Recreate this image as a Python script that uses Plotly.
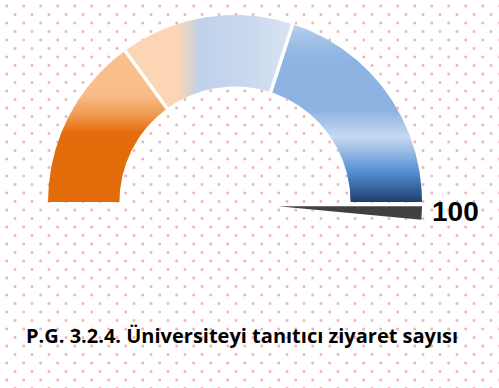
import numpy as np
import plotly.graph_objects as go

# Gauge scale (percent) and the three coloured bands
band_edges = [0, 30, 60, 100]
needle_value = 100
value_label = "100"
title_text = "P.G. 3.2.4. Üniversiteyi tanıtıcı ziyaret sayısı"

# Geometry (gauge units: outer radius = 1)
R_OUT = 1.0
R_IN = 0.618
PX = 187.0            # pixels per gauge unit
CX, CY = 235.0, 202.0  # gauge centre in pixels
W, H = 499, 388


def px_to_xy(px, py):
    return (np.asarray(px) - CX) / PX, (CY - np.asarray(py)) / PX


def val_to_angle(v):
    return np.pi * (1 - v / 100.0)


def sector(v0, v1, n=160):
    a = np.linspace(val_to_angle(v0), val_to_angle(v1), n)
    xo, yo = R_OUT * np.cos(a), R_OUT * np.sin(a)
    xi, yi = R_IN * np.cos(a[::-1]), R_IN * np.sin(a[::-1])
    return (np.concatenate([xo, xi, xo[:1]]),
            np.concatenate([yo, yi, yo[:1]]))


fig = go.Figure()

# dotted paper background
ax, ay = np.meshgrid(6.7 + 17 * np.arange(30), 6 + 17 * np.arange(23))
bx, by = np.meshgrid(15 + 17 * np.arange(30), 14.5 + 17 * np.arange(23))
dpx = np.concatenate([ax.ravel(), bx.ravel()])
dpy = np.concatenate([ay.ravel(), by.ravel()])
dx, dy = px_to_xy(dpx, dpy)
fig.add_trace(go.Scatter(x=dx, y=dy, mode="markers",
                         marker=dict(symbol="square", size=2.6, color="#efb4b4",
                                     line=dict(width=0)),
                         hoverinfo="skip", showlegend=False))

# band fills with gradients
gradients = [
    dict(type="vertical", start=0, stop=1,
         colorscale=[[0, "#e36c0a"], [0.37, "#e46c0a"], [0.465, "#ef9a4e"],
                     [0.572, "#f8bd8b"], [1, "#f9c391"]]),
    dict(type="horizontal", start=-1, stop=1,
         colorscale=[[0, "#fbd5b4"], [0.348, "#fbd5b4"], [0.406, "#bfd1ea"],
                     [0.54, "#c9d9ee"], [0.647, "#d8e4f3"], [1, "#dde8f4"]]),
    dict(type="vertical", start=0, stop=1,
         colorscale=[[0, "#1f3e6c"], [0.16, "#558ed5"], [0.251, "#8db3e2"],
                     [0.348, "#c6d9f1"], [0.492, "#8db3e2"], [0.759, "#8db3e2"],
                     [0.84, "#9bbde6"], [1, "#c5d9f1"]]),
]
for i in range(3):
    sx, sy = sector(band_edges[i], band_edges[i + 1])
    fig.add_trace(go.Scatter(x=sx, y=sy, mode="lines", fill="toself",
                             fillgradient=gradients[i],
                             line=dict(width=0), hoverinfo="skip",
                             showlegend=False))

# white separators between bands
for v in band_edges[1:-1]:
    a = val_to_angle(v)
    r = np.array([R_IN - 0.03, R_OUT + 0.03])
    fig.add_trace(go.Scatter(x=r * np.cos(a), y=r * np.sin(a), mode="lines",
                             line=dict(color="white", width=3.5),
                             hoverinfo="skip", showlegend=False))

# needle wedge
pvx, pvy = px_to_xy(278, 206.3)
L = 0.77
theta = val_to_angle(needle_value)
wdg = np.radians(5.4)
arc = np.linspace(theta, theta - wdg, 12)
nx = np.concatenate([[pvx], pvx + L * np.cos(arc), [pvx]])
ny = np.concatenate([[pvy], pvy + L * np.sin(arc), [pvy]])
fig.add_trace(go.Scatter(x=nx, y=ny, mode="lines", fill="toself",
                         fillcolor="#404040", line=dict(width=0),
                         hoverinfo="skip", showlegend=False))

lx, ly = px_to_xy(455, 211)
fig.add_annotation(x=float(lx), y=float(ly), text="<b>%s</b>" % value_label,
                   showarrow=False, xanchor="center", yanchor="middle",
                   font=dict(family="Liberation Sans", size=28, color="black"))

fig.add_annotation(x=242 / W, y=1 - 335 / H, xref="paper", yref="paper",
                   text="<b>%s</b>" % title_text, showarrow=False,
                   xanchor="center", yanchor="middle",
                   font=dict(family="Open Sans", size=20, color="black"))

x0, _ = px_to_xy(0, 0)
x1, _ = px_to_xy(W, 0)
_, y0 = px_to_xy(0, H)
_, y1 = px_to_xy(0, 0)
fig.update_layout(
    width=W, height=H, margin=dict(l=0, r=0, t=0, b=0),
    paper_bgcolor="white", plot_bgcolor="white",
    xaxis=dict(range=[float(x0), float(x1)], visible=False, fixedrange=True),
    yaxis=dict(range=[float(y0), float(y1)], visible=False, fixedrange=True),
)

fig.write_html("out.html")
